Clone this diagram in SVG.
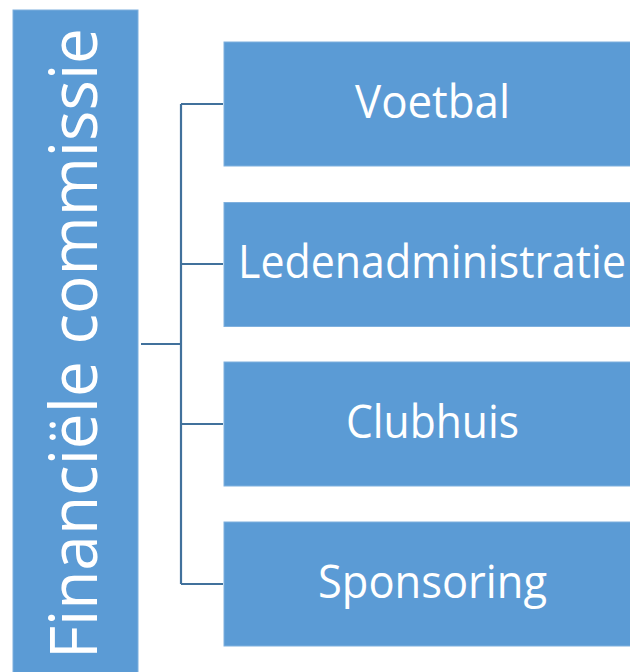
<svg xmlns="http://www.w3.org/2000/svg" width="630" height="672" viewBox="0 0 630 672">
<style>
.box{fill:#5B9BD5;stroke:#7FB0DE;stroke-width:1}
.lbl{font-family:"Open Sans","Noto Sans",sans-serif;font-size:45px;fill:#fff;text-anchor:middle}
.con{stroke:#41719C;stroke-width:2.2;fill:none}
</style>
<rect width="630" height="672" fill="#fff"/>
<g id="connectors">
<path class="con" d="M141 344H181M181 104V584M181 104H223M181 264H223M181 424H223M181 584H223"/>
</g>
<g id="root">
<rect class="box" x="13" y="10" width="125" height="670"/>
<text class="lbl" transform="translate(97,343.5) rotate(-90)" x="0" y="0" style="font-size:66px" textLength="631" lengthAdjust="spacingAndGlyphs">Financiële commissie</text>
</g>
<g id="n1">
<rect class="box" x="224" y="42" width="417" height="124"/>
<text class="lbl" x="432.5" y="117.7" textLength="155" lengthAdjust="spacingAndGlyphs">Voetbal</text>
</g>
<g id="n2">
<rect class="box" x="224" y="202.5" width="417" height="124"/>
<text class="lbl" x="432" y="277.7" textLength="388" lengthAdjust="spacingAndGlyphs">Ledenadministratie</text>
</g>
<g id="n3">
<rect class="box" x="224" y="362" width="417" height="124"/>
<text class="lbl" x="432.5" y="437.7" textLength="173" lengthAdjust="spacingAndGlyphs">Clubhuis</text>
</g>
<g id="n4">
<rect class="box" x="224" y="522" width="417" height="124"/>
<text class="lbl" x="432.5" y="597.7" textLength="229" lengthAdjust="spacingAndGlyphs">Sponsoring</text>
</g>
</svg>
